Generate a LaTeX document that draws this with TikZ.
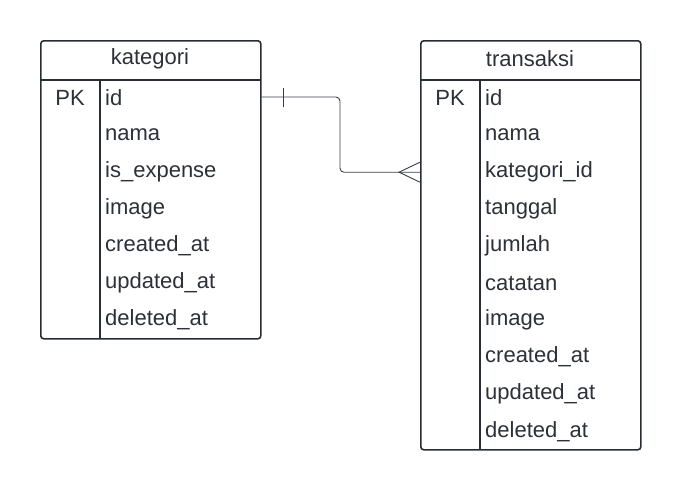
\documentclass[tikz,border=0pt]{standalone}
\usepackage{fontspec}
\setmainfont{Liberation Sans}
\usetikzlibrary{positioning,calc}

\definecolor{garis}{RGB}{40,44,51}
\definecolor{teks}{RGB}{44,48,56}
\definecolor{relasi}{RGB}{58,62,70}

\tikzset{
    tabel/.style={draw=garis, line width=1.6pt, rounded corners=3pt, inner sep=0pt,
        minimum width=220pt, anchor=north west},
    pemisah/.style={draw=garis, line width=1.6pt},
    judul/.style={font=\fontsize{22}{26}\selectfont, text=teks},
    kolom/.style={font=\fontsize{22}{26}\selectfont, text=teks, anchor=west, inner sep=0pt},
    garisrel/.style={draw=relasi, line width=0.9pt}
}

\begin{document}
\begin{tikzpicture}[x=1pt,y=-1pt]
    \useasboundingbox (0,0) rectangle (680,490);

    % Tabel kategori
    \node[tabel, minimum height=298pt] (kat) at (40,40) {};
    \draw[pemisah] (40,80) -- (260,80);
    \draw[pemisah] (100,80) -- (100,338);
    \node[judul] (kat-judul) at (150,59) {kategori};
    \node[judul] (kat-pk) at (70,97.5) {PK};
    \foreach \nama [count=\i] in {id,nama,is\_expense,image,created\_at,updated\_at,deleted\_at}
        \node[kolom] (kat-\i) at (105,{97.5+37.1*(\i-1)}) {\nama};

    % Tabel transaksi
    \node[tabel, minimum height=409pt] (trx) at (420,40) {};
    \draw[pemisah] (420,80) -- (640,80);
    \draw[pemisah] (480,80) -- (480,449);
    \node[judul] (trx-judul) at (530,59) {transaksi};
    \node[judul] (trx-pk) at (450,97.5) {PK};
    \foreach \nama [count=\i] in {id,nama,kategori\_id,tanggal,jumlah,catatan,image,created\_at,updated\_at,deleted\_at}
        \node[kolom] (trx-\i) at (485,{97.5+37.1*(\i-1)}) {\nama};

    % Relasi satu ke banyak
    \coordinate (rel-a) at ($(kat.east |- kat-1)+(0,-0.5)$);
    \coordinate (rel-b) at ($(trx.west |- trx-3)+(0,0.5)$);
    \draw[garisrel, rounded corners=4pt] (rel-a) -| (340,0 |- rel-b) -- (rel-b);
    \draw[garisrel] ($(rel-a)+(22,-9.5)$) -- ($(rel-a)+(22,9.5)$);
    \draw[garisrel] ($(rel-b)+(0,-10)$) -- ($(rel-b)+(-21,0)$) -- ($(rel-b)+(0,10)$);
\end{tikzpicture}
\end{document}
